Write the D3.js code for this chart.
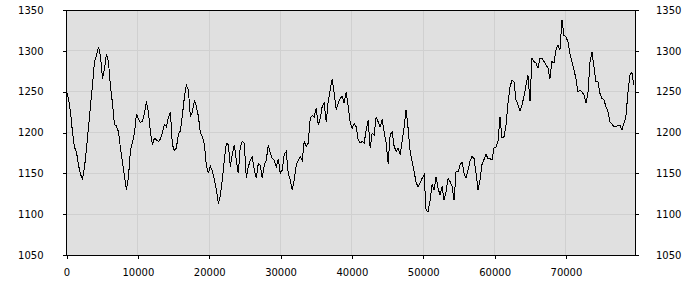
<!DOCTYPE html>
<html>
<head>
<meta charset="utf-8">
<script src="https://cdn.jsdelivr.net/npm/d3@7"></script>
<style>
  body { margin: 0; background: #fff; }
  svg { display: block; font-family: "DejaVu Sans", sans-serif; }
</style>
</head>
<body>
<div id="chart"></div>
<script>
// one reading every sampleStep units along x
const sampleStep = 280
const price = [
  1250,1242,1225,1200,1182,1176,1160,1149,1143,1157,
  1180,1206,1233,1258,1287,1294,1305,1294,1266,1278,
  1296,1287,1256,1236,1210,1208,1201,1181,1164,1147,
  1130,1145,1178,1188,1199,1223,1217,1212,1214,1223,
  1238,1225,1201,1185,1193,1191,1189,1192,1200,1210,
  1207,1218,1225,1185,1178,1181,1198,1202,1221,1243,
  1258,1252,1220,1225,1239,1232,1220,1200,1195,1186,
  1160,1150,1159,1153,1143,
  1130,1113,1123,1142,1166,1187,1185,1158,1173,1185,
  1166,1150,1183,1189,1187,1144,1158,1166,1170,1154,
  1144,1162,1160,1144,1160,1166,1185,1175,1168,1166,
  1158,1168,1150,1154,1173,1177,1150,1142,1130,1142,
  1160,1166,1170,1166,1189,1183,1187,1217,1221,1219,
  1230,1209,1217,1232,1236,1213,1238,1252,1266,1248,
  1228,1236,1242,1244,1236,1250,1232,1213,1205,1211,
  1207,1191,
  1187,1189,1187,1203,1215,1181,1199,1197,1219,1213,
  1207,1216,1201,1187,1162,1197,1201,1183,1177,1181,
  1173,1189,1207,1228,1205,1177,1164,1152,1139,1133,
  1138,1144,1148,1105,1103,1117,1136,1130,1146,1132,
  1123,1134,1117,1128,1144,1140,1134,1117,1152,1152,
  1160,1164,1150,1144,1154,1165,1171,1168,1150,1130,
  1142,1161,1167,1173,1168,1168,1166,1181,1182,1189,
  1219,1193,1195,1209,1236,1256,1264,1262,1240,1234,
  1226,1234,1244,1258,1270,1238,1291,1287,1285,1279,
  1291,1291,1287,1283,1279,1266,1287,1285,1301,1307,
  1301,1338,1319,1317,1311,1297,1287,1277,1266,1250,
  1252,1250,1246,1236,1248,1285,1299,1281,1262,1262,
  1248,1242,1240,1232,1226,1213,1211,1207,1207,1209,
  1209,1203,1211,1219,1248,1270,1274,1258
]
const xDomain = [0, 79680]
const yDomain = [1050, 1350]
const xTicks = [0, 10000, 20000, 30000, 40000, 50000, 60000, 70000]
const yTicks = [1050, 1100, 1150, 1200, 1250, 1300, 1350]

const dimensions = {
  width: 700,
  height: 300,
  margin: { top: 10, right: 65, bottom: 45, left: 66.5 },
}
dimensions.boundedWidth = dimensions.width - dimensions.margin.left - dimensions.margin.right
dimensions.boundedHeight = dimensions.height - dimensions.margin.top - dimensions.margin.bottom

const wrapper = d3.select("#chart")
  .append("svg")
    .attr("width", dimensions.width)
    .attr("height", dimensions.height)
const bounds = wrapper.append("g")
  .attr("transform", `translate(${dimensions.margin.left}, ${dimensions.margin.top})`)

const xScale = d3.scaleLinear()
  .domain(xDomain)
  .range([0, dimensions.boundedWidth])
const yScale = d3.scaleLinear()
  .domain(yDomain)
  .range([dimensions.boundedHeight, 0])

bounds.append("rect")
  .attr("width", dimensions.boundedWidth)
  .attr("height", dimensions.boundedHeight)
  .attr("fill", "#e0e0e0")

const grid = bounds.append("g")
  .attr("stroke", "#d0d0d0")
  .attr("shape-rendering", "crispEdges")
grid.selectAll(".vgrid")
  .data(xTicks.slice(1))
  .join("line")
    .attr("class", "vgrid")
    .attr("x1", d => xScale(d)).attr("x2", d => xScale(d))
    .attr("y1", 0).attr("y2", dimensions.boundedHeight)
grid.selectAll(".hgrid")
  .data(yTicks.slice(1, -1))
  .join("line")
    .attr("class", "hgrid")
    .attr("x1", 0).attr("x2", dimensions.boundedWidth)
    .attr("y1", d => yScale(d)).attr("y2", d => yScale(d))

// aliased black line, like the original
bounds.append("path")
  .datum(price)
    .attr("fill", "none")
    .attr("stroke", "#000")
    .attr("stroke-width", 1)
    .attr("shape-rendering", "crispEdges")
    .attr("d", d3.line()
      .x((d, i) => xScale(i * sampleStep))
      .y(d => yScale(d))
    )

bounds.append("rect")
  .attr("width", dimensions.boundedWidth)
  .attr("height", dimensions.boundedHeight)
  .attr("fill", "none")
  .attr("stroke", "#000")
  .attr("shape-rendering", "crispEdges")

const styleAxis = g => {
  g.select(".domain").remove()
  g.selectAll("line").attr("stroke", "#000").attr("shape-rendering", "crispEdges")
  g.selectAll("text").attr("fill", "#000").style("font-size", "10px")
    .style("font-family", "'DejaVu Sans', sans-serif")
}

bounds.append("g")
  .attr("transform", `translate(0, ${dimensions.boundedHeight})`)
  .call(d3.axisBottom(xScale).tickValues(xTicks).tickSize(4).tickPadding(10).tickFormat(d3.format("d")))
  .call(styleAxis)

bounds.append("g")
  .call(d3.axisLeft(yScale).tickValues(yTicks).tickSize(4).tickPadding(19).tickFormat(d3.format("d")))
  .call(styleAxis)

bounds.append("g")
  .attr("transform", `translate(${dimensions.boundedWidth}, 0)`)
  .call(d3.axisRight(yScale).tickValues(yTicks).tickSize(4).tickPadding(17).tickFormat(d3.format("d")))
  .call(styleAxis)
</script>
</body>
</html>
